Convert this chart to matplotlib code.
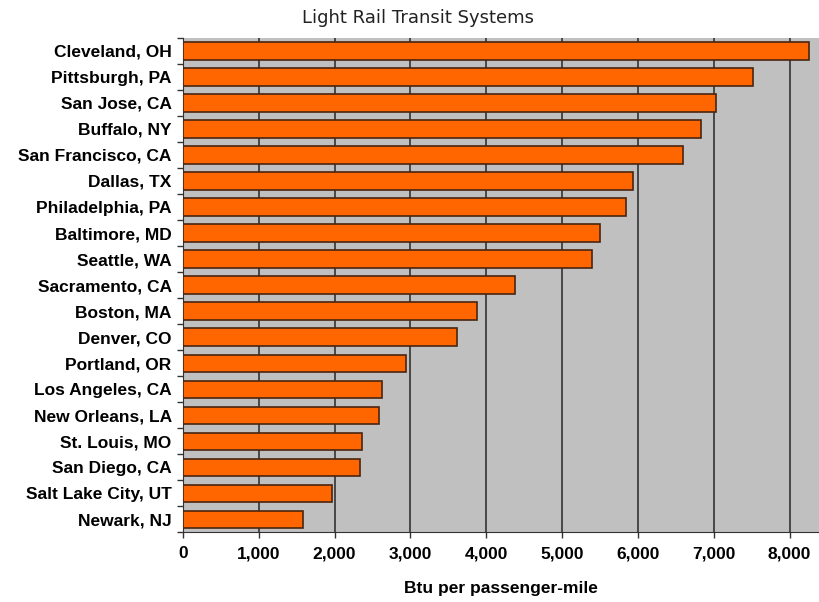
import numpy as np
import matplotlib.pyplot as plt
from matplotlib.ticker import FuncFormatter, FixedLocator

# Light rail energy intensity, Btu per passenger-mile
cities = ["Cleveland, OH", "Pittsburgh, PA", "San Jose, CA", "Buffalo, NY",
          "San Francisco, CA", "Dallas, TX", "Philadelphia, PA", "Baltimore, MD",
          "Seattle, WA", "Sacramento, CA", "Boston, MA", "Denver, CO",
          "Portland, OR", "Los Angeles, CA", "New Orleans, LA", "St. Louis, MO",
          "San Diego, CA", "Salt Lake City, UT", "Newark, NJ"]
btu = [8250, 7520, 7030, 6830, 6600, 5930, 5840, 5500, 5400, 4380,
       3880, 3620, 2940, 2620, 2590, 2360, 2330, 1970, 1580]
xticks = [0, 1000, 2000, 3000, 4000, 5000, 6000, 7000, 8000]

label_font = ['Liberation Sans Narrow', 'Liberation Sans', 'DejaVu Sans']

fig = plt.figure(figsize=(8.2, 6.02), dpi=100)
ax = fig.add_axes([0.223, 0.116, 0.777, 0.821])
ax.set_facecolor('#c0c0c0')

y = np.arange(len(cities))
ax.barh(y, btu, height=0.66, color='#ff6600', edgecolor='#4a2410',
        linewidth=1.2, zorder=3)

ax.set_ylim(len(cities) - 0.5, -0.5)
ax.set_xlim(0, 8400)

ax.set_yticks(y)
ax.set_yticklabels(cities, fontfamily=label_font, fontweight='bold', fontsize=12.5)
ax.tick_params(axis='y', which='major', length=0, pad=8)
ax.yaxis.set_minor_locator(FixedLocator(np.arange(-0.5, len(cities), 1.0)))
ax.tick_params(axis='y', which='minor', length=4, width=1, color='#333333')

ax.set_xticks(xticks)
ax.xaxis.set_major_formatter(FuncFormatter(lambda v, p: f"{int(v):,}"))
for lbl in ax.get_xticklabels():
    lbl.set_fontfamily(label_font)
    lbl.set_fontweight('bold')
    lbl.set_fontsize(12.5)
ax.tick_params(axis='x', length=4, width=1, color='#333333', pad=6)

ax.grid(axis='x', color='#333333', linewidth=1.2, zorder=1)
ax.set_axisbelow(True)

for s in ['top', 'right']:
    ax.spines[s].set_visible(False)
ax.spines['left'].set_color('#333333')
ax.spines['bottom'].set_color('#333333')

ax.set_xlabel("Btu per passenger-mile", fontfamily=label_font,
              fontweight='bold', fontsize=12.5, labelpad=14)
fig.text(0.51, 0.97, "Light Rail Transit Systems", ha='center', va='center',
         fontfamily=['DejaVu Sans'], fontsize=13, color='#222222')

fig.savefig("out.png", dpi=100)
